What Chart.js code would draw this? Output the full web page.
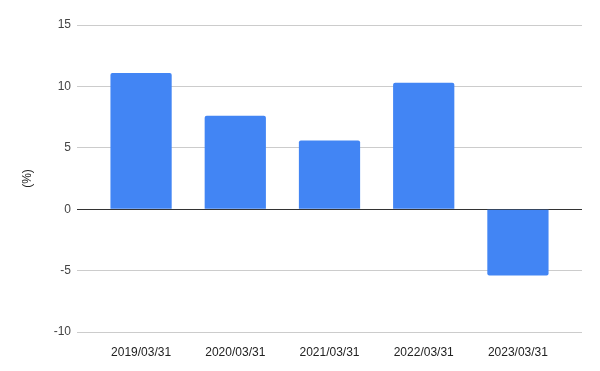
<!DOCTYPE html>
<html>
<head>
<meta charset="utf-8">
<script src="https://cdn.jsdelivr.net/npm/chart.js@4"></script>
<style>
  html, body { margin: 0; padding: 0; background: #fff; }
  #wrap { width: 600px; height: 371px; }
</style>
</head>
<body>
<div id="wrap"><canvas id="mycanvas" width="600" height="371"></canvas></div>
<script>
var dates = ['2019/03/31', '2020/03/31', '2021/03/31', '2022/03/31', '2023/03/31'];
var values = [11.1, 7.6, 5.6, 10.3, -5.4];
var yTicks = [-10, -5, 0, 5, 10, 15];

var points = [];
for (var i in values) {
    points.push({ x: Number(i), y: values[i] });
}

var chardata = {
    datasets: [
        {
            label: '(%)',
            backgroundColor: '#4285f4',
            borderRadius: 2,
            borderSkipped: 'start',
            categoryPercentage: 1,
            barPercentage: 0.65,
            data: points
        }
    ]
};

var ctx = document.getElementById('mycanvas');
var barGraph = new Chart(ctx, {
    type: 'bar',
    data: chardata,
    options: {
        responsive: false,
        animation: false,
        layout: { padding: { top: 25, right: 18, left: 0, bottom: 0 } },
        plugins: {
            legend: { display: false },
            tooltip: { enabled: false }
        },
        scales: {
            x: {
                type: 'linear',
                min: -0.68,
                max: 4.68,
                offset: false,
                grid: { display: false },
                border: { display: false },
                afterBuildTicks: function(scale) {
                    scale.ticks = dates.map(function(d, i) { return { value: i }; });
                },
                afterFit: function(scale) { scale.height = 39; },
                ticks: {
                    padding: 5,
                    maxRotation: 0,
                    autoSkip: false,
                    color: '#222',
                    font: { family: 'Liberation Sans, Arial', size: 12 },
                    callback: function(v) { return dates[v]; }
                }
            },
            y: {
                min: yTicks[0],
                max: yTicks[yTicks.length - 1],
                afterBuildTicks: function(scale) {
                    scale.ticks = yTicks.map(function(v) { return { value: v }; });
                },
                afterFit: function(scale) { scale.width = 77; },
                grid: {
                    drawTicks: false,
                    color: function(c) { return c.tick && c.tick.value === 0 ? '#333' : '#cccccc'; },
                    lineWidth: 1
                },
                border: { display: false },
                ticks: {
                    padding: 6,
                    color: '#444',
                    font: { family: 'Liberation Sans, Arial', size: 12 }
                },
                title: {
                    display: true,
                    text: '(%)',
                    color: '#222',
                    padding: { top: 20, bottom: 0 },
                    font: { family: 'Liberation Sans, Arial', size: 12 }
                }
            }
        }
    }
});
</script>
</body>
</html>
